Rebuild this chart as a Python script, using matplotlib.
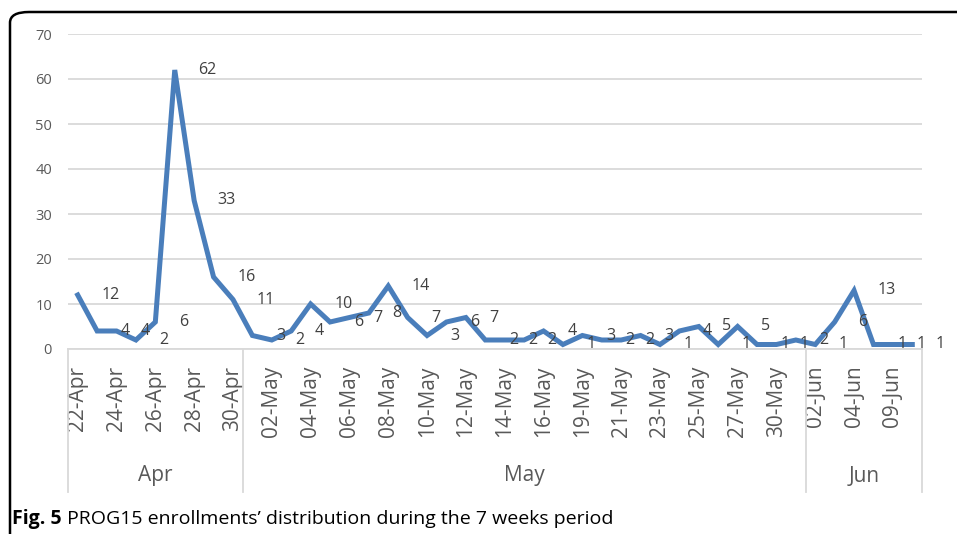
import matplotlib
matplotlib.use("Agg")
import matplotlib.pyplot as plt
from matplotlib.patches import FancyBboxPatch
import matplotlib.transforms as mtransforms

plt.rcParams['font.family'] = ['Open Sans', 'DejaVu Sans']

# ---- data ----
categories = ['22-Apr', '23-Apr', '24-Apr', '25-Apr', '26-Apr', '27-Apr', '28-Apr', '29-Apr', '30-Apr',
              '01-May', '02-May', '03-May', '04-May', '05-May', '06-May', '07-May', '08-May', '09-May',
              '10-May', '11-May', '12-May', '13-May', '14-May', '15-May', '16-May', '17-May', '19-May',
              '20-May', '21-May', '22-May', '23-May', '24-May', '25-May', '26-May', '27-May', '28-May',
              '30-May', '31-May', '02-Jun', '03-Jun', '04-Jun', '05-Jun', '09-Jun', '10-Jun']
months = [c.split('-')[1] for c in categories]
enrollments = [12, 4, 4, 2, 6, 62, 33, 16, 11, 3, 2, 4, 10, 6, 7, 8, 14, 7, 3, 6, 7, 2, 2, 2, 4,
               1, 3, 2, 2, 3, 1, 4, 5, 1, 5, 1, 1, 2, 1, 6, 13, 1, 1, 1]
yticks = [0, 10, 20, 30, 40, 50, 60, 70]
caption_bold = "Fig. 5"
caption_rest = " PROG15 enrollments\u2019 distribution during the 7 weeks period"

W, H = 957, 534
fig = plt.figure(figsize=(W / 100, H / 100), dpi=100)
fig.patch.set_facecolor('white')

# outer frame (rounded corner top-left)
frame = FancyBboxPatch((10 / W, -0.2), 1.2, (H - 12) / H + 0.2,
                       boxstyle="round,pad=0,rounding_size=0.02",
                       transform=fig.transFigure, fill=False,
                       edgecolor='black', linewidth=1.8, clip_on=False)
fig.patches.append(frame)

left, right, bottom, top = 68, 922, 349, 34
ax = fig.add_axes([left / W, 1 - bottom / H, (right - left) / W, (bottom - top) / H])
ax.set_facecolor('none')

x = list(range(len(enrollments)))
ax.plot(x, enrollments, color='#4A7EBB', linewidth=3.6, solid_joinstyle='miter', zorder=3)

ax.set_xlim(-0.5, len(categories) - 0.5)
ax.set_ylim(0, 70)
ax.set_yticks(yticks)
ax.yaxis.grid(True, color='#D9D9D9', linewidth=1.3)
ax.set_axisbelow(True)
for s in ['top', 'right', 'left']:
    ax.spines[s].set_visible(False)
ax.spines['bottom'].set_color('#D9D9D9')
ax.spines['bottom'].set_linewidth(1.3)
ax.tick_params(axis='y', length=0, pad=11.5, labelsize=10.5, labelcolor='#595959')

tick_pos = x[::2]
ax.set_xticks(tick_pos)
ax.set_xticklabels([categories[i] for i in tick_pos], rotation=90, va='top', ha='center')
ax.tick_params(axis='x', length=0, pad=12, labelsize=15, labelcolor='#595959')

# data labels
for xi, v in zip(x, enrollments):
    ax.annotate(str(v), (xi, v), xytext=(17, 0), textcoords='offset points',
                ha='left', va='center', fontsize=11.5, color='#404040', zorder=4)

# month groups
trans = mtransforms.blended_transform_factory(ax.transData, ax.transAxes)
axh = bottom - top
y_line_end = -(492 - bottom) / axh
y_group = -(476 - bottom) / axh
bounds = [-0.5]
names = [months[0]]
for i in range(1, len(months)):
    if months[i] != months[i - 1]:
        bounds.append(i - 0.5)
        names.append(months[i])
bounds.append(len(months) - 0.5)
for b in bounds:
    ax.plot([b, b], [0, y_line_end], transform=trans, color='#D9D9D9',
            linewidth=1.3, clip_on=False)
for i, nm in enumerate(names):
    ax.text((bounds[i] + bounds[i + 1]) / 2, y_group, nm, transform=trans,
            ha='center', va='center', fontsize=15, color='#595959')

# caption
t1 = fig.text(12 / W, 1 - 519 / H, caption_bold, fontsize=14, fontweight='bold',
              ha='left', va='center', color='black')
fig.canvas.draw()
r = fig.canvas.get_renderer()
bb = t1.get_window_extent(r)
fig.text(bb.x1 / W, 1 - 519 / H, caption_rest, fontsize=14, ha='left', va='center', color='black')

fig.savefig('out.png', dpi=100)
